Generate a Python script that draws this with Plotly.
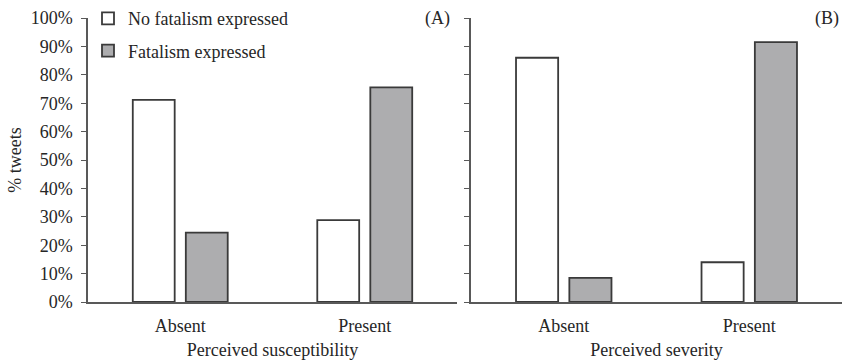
import plotly.graph_objects as go

categories = ["Absent", "Present"]
susc_no_fatalism = [71.2, 28.8]
susc_fatalism = [24.4, 75.6]
sev_no_fatalism = [86.0, 14.0]
sev_fatalism = [8.5, 91.5]
y_ticks = list(range(0, 101, 10))
y_tick_labels = [f"{v}%" for v in y_ticks]
series_names = ["No fatalism expressed", "Fatalism expressed"]
panel_titles = ["Perceived susceptibility", "Perceived severity"]

FONT = "Liberation Serif"
LINE = "#3a3a3a"
AXIS = "#595959"
GREY = "#adadaf"
TXT = "#262626"
FS = 18

fig = go.Figure()
fig.add_trace(go.Bar(x=categories, y=susc_no_fatalism, name=series_names[0],
                     marker=dict(color="white", line=dict(color=LINE, width=1.8)),
                     xaxis="x", yaxis="y", legendgroup="a"))
fig.add_trace(go.Bar(x=categories, y=susc_fatalism, name=series_names[1],
                     marker=dict(color=GREY, line=dict(color=LINE, width=1.8)),
                     xaxis="x", yaxis="y", legendgroup="b"))
fig.add_trace(go.Bar(x=categories, y=sev_no_fatalism, name=series_names[0],
                     marker=dict(color="white", line=dict(color=LINE, width=1.8)),
                     xaxis="x2", yaxis="y2", showlegend=False))
fig.add_trace(go.Bar(x=categories, y=sev_fatalism, name=series_names[1],
                     marker=dict(color=GREY, line=dict(color=LINE, width=1.8)),
                     xaxis="x2", yaxis="y2", showlegend=False))

W, H = 842, 362
xcommon = dict(type="category", range=[-0.5, 1.5], showline=True, linecolor=AXIS,
               linewidth=1.5, ticks="", showgrid=False, zeroline=False,
               automargin=False, ticklabelstandoff=7,
               tickfont=dict(family=FONT, size=FS, color=TXT))
ycommon = dict(range=[0, 100], tickvals=y_ticks, showline=True, linecolor=AXIS,
               linewidth=1.5, ticks="outside", ticklen=5, tickcolor=AXIS,
               showgrid=False, zeroline=False, automargin=False,
               tickfont=dict(family=FONT, size=FS, color=TXT))

fig.update_layout(
    width=W, height=H,
    margin=dict(l=0, r=0, t=14, b=60),
    paper_bgcolor="white", plot_bgcolor="white",
    barmode="group", bargap=0.425, bargroupgap=0.21,
    font=dict(family=FONT, size=FS, color=TXT),
    xaxis=dict(domain=[88 / W, 457 / W], anchor="y",
               title=dict(text=panel_titles[0], font=dict(family=FONT, size=FS, color=TXT),
                          standoff=8), **xcommon),
    xaxis2=dict(domain=[471 / W, 1.0], anchor="y2",
                title=dict(text=panel_titles[1], font=dict(family=FONT, size=FS, color=TXT),
                           standoff=8), **xcommon),
    yaxis=dict(domain=[0, 1], anchor="x", ticktext=y_tick_labels, ticklabelstandoff=5,
               title=dict(text="% tweets", font=dict(family=FONT, size=FS, color=TXT),
                          standoff=4), **ycommon),
    yaxis2=dict(domain=[0, 1], anchor="x2", showticklabels=False, **ycommon),
    legend=dict(x=88 / W, y=1.063, xanchor="left", yanchor="top",
                bgcolor="rgba(0,0,0,0)", font=dict(family=FONT, size=FS, color=TXT),
                traceorder="grouped", tracegroupgap=6, itemwidth=30),
    annotations=[
        dict(text="(A)", x=452 / W, y=1.0, xref="paper", yref="paper",
             xanchor="right", yanchor="middle", showarrow=False,
             font=dict(family=FONT, size=FS, color=TXT)),
        dict(text="(B)", x=841 / W, y=1.0, xref="paper", yref="paper",
             xanchor="right", yanchor="middle", showarrow=False,
             font=dict(family=FONT, size=FS, color=TXT)),
    ],
)

css = ("var s=document.createElement('style');"
       "s.textContent='html,body{margin:0!important;padding:0!important;overflow:hidden!important;}';"
       "document.head.appendChild(s);")
fig.write_html("out.html", config={"displayModeBar": False, "responsive": False},
               post_script=css)
